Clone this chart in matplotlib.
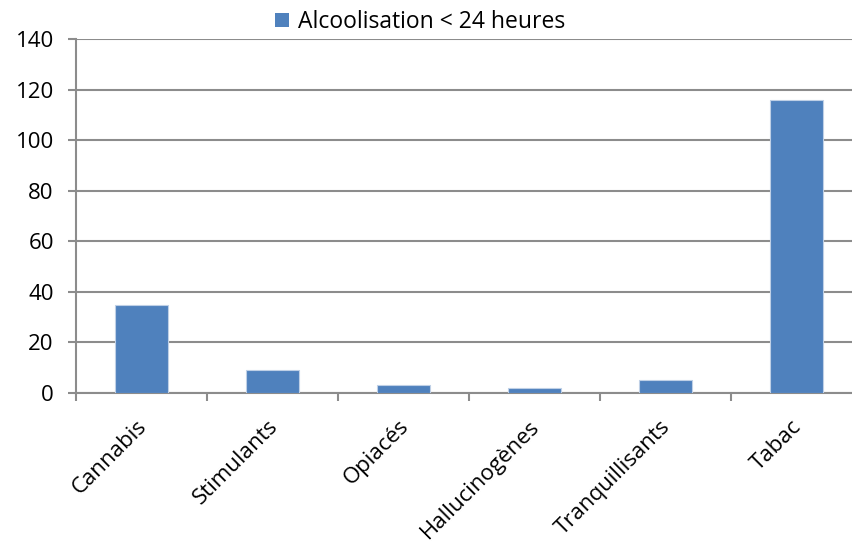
import numpy as np
import matplotlib
matplotlib.use('Agg')
import matplotlib.pyplot as plt
import matplotlib.transforms as mtransforms
from matplotlib.patches import Patch

categories = ['Cannabis', 'Stimulants', 'Opiacés', 'Hallucinogènes', 'Tranquillisants', 'Tabac']
values = [35, 9, 3, 2, 5, 116]
series_name = 'Alcoolisation < 24 heures'
yticks = [0, 20, 40, 60, 80, 100, 120, 140]

plt.rcParams['font.family'] = ['Open Sans', 'DejaVu Sans']
blue = '#4F81BD'
grey = '#8C8C8C'

fig = plt.figure(figsize=(8.53, 5.44), dpi=100)
ax = fig.add_axes([76/853, 1-393/544, 786/853, 354/544])

x = np.arange(len(categories))
ax.bar(x, values, width=0.4, color=blue, edgecolor='#BFD0E6', linewidth=0.8, zorder=3)

ax.set_xlim(-0.5, len(categories) - 0.5)
ax.set_ylim(0, 140)
ax.set_yticks(yticks)
ax.yaxis.grid(True, color=grey, linewidth=1.5, zorder=0)
ax.tick_params(axis='y', length=6, width=1.5, color=grey, labelsize=16, pad=10)

ax.set_xticks(x)
ax.set_xticklabels(categories, rotation=45, ha='right', va='center',
                   rotation_mode='anchor', fontsize=16)
ax.tick_params(axis='x', which='major', length=0, pad=22)
ax.set_xticks(np.arange(-0.5, len(categories)), minor=True)
ax.tick_params(axis='x', which='minor', length=6, width=1.5, color=grey)
shift = mtransforms.ScaledTranslation(2/100, 0, fig.dpi_scale_trans)
for lbl in ax.get_xticklabels():
    lbl.set_transform(lbl.get_transform() + shift)

for s in ['top', 'right']:
    ax.spines[s].set_visible(False)
for s in ['left', 'bottom']:
    ax.spines[s].set_color(grey)
    ax.spines[s].set_linewidth(1.5)

handle = Patch(facecolor=blue, edgecolor='none')
fig.legend([handle], [series_name], loc='center', bbox_to_anchor=(420/853, 1-22/544),
           frameon=False, fontsize=16.5, handlelength=0.6, handleheight=0.6,
           handletextpad=0.4, borderpad=0)

fig.savefig('out.png', dpi=100)
